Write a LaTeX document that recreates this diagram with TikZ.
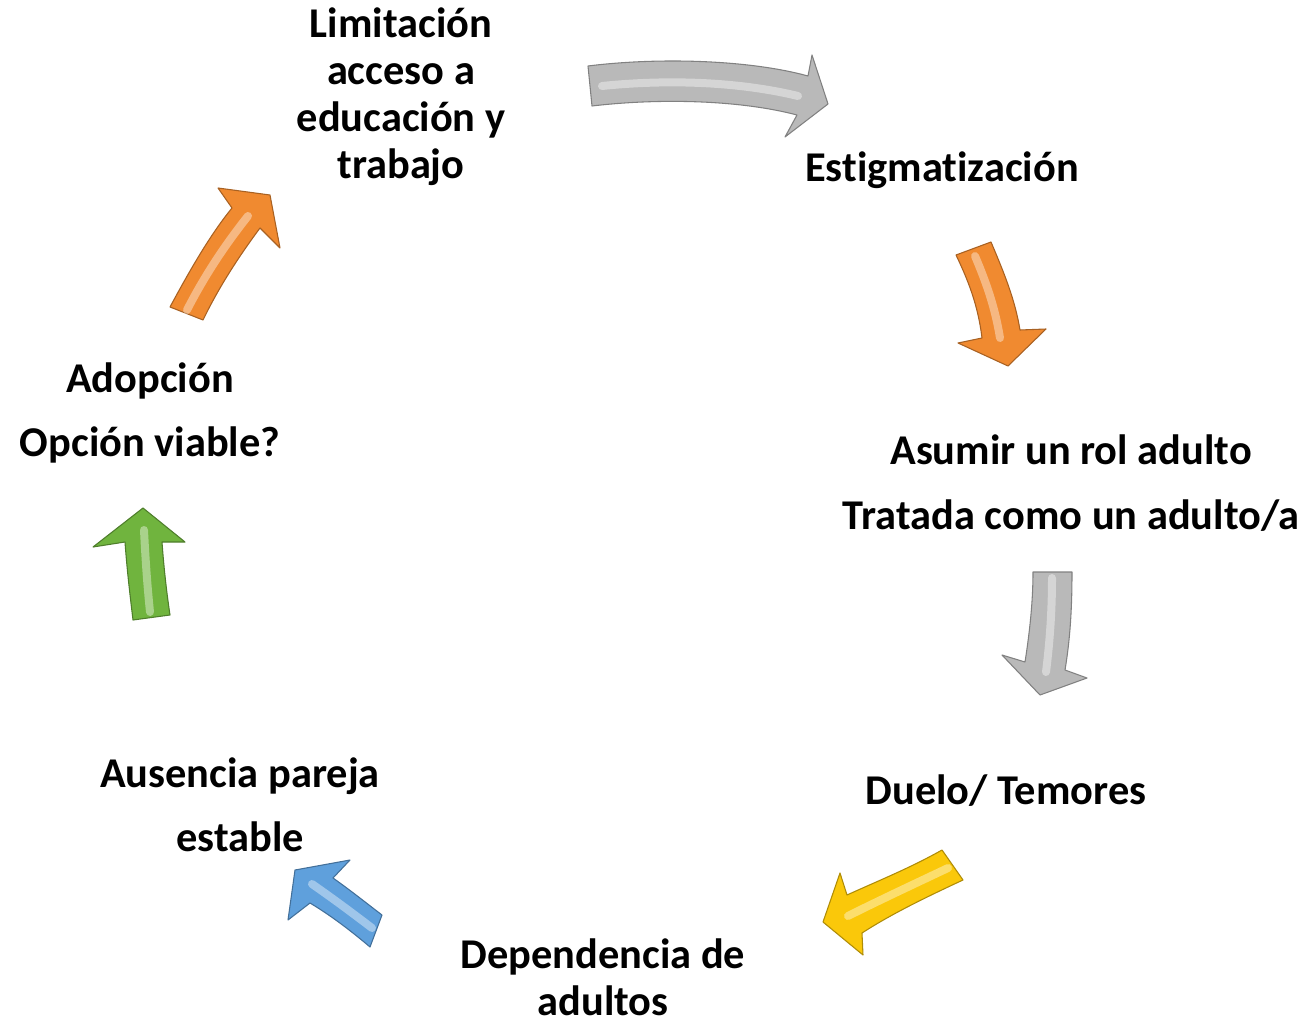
\documentclass[tikz,border=0pt]{standalone}
\usepackage{fontspec}
\setmainfont{Carlito}[Ligatures=NoCommon]
\definecolor{agray}{RGB}{185,185,185}
\definecolor{aorange}{RGB}{240,138,48}
\definecolor{ayellow}{RGB}{250,200,10}
\definecolor{ablue}{RGB}{95,160,220}
\definecolor{agreen}{RGB}{112,180,62}
\tikzset{
  lbl/.style={font=\bfseries\fontsize{31.8}{35.2}\selectfont, align=center, inner sep=0pt},
  barrow/.style={draw=#1!70!black, line width=0.8pt, fill=#1, line join=round},
  hl/.style={line width=6pt, line cap=round, draw=white, opacity=0.4}
}
\begin{document}
\begin{tikzpicture}[x=0.75pt,y=-0.75pt]
\useasboundingbox (0,0) rectangle (1307,1020);

% labels
\node[lbl] (limit) at (401,97) {Limitación\\acceso a\\educación y\\trabajo};
\node[lbl] (estig) at (942,170) {Estigmatización};
\node[lbl] (asumir) at (1071,483) {Asumir un rol adulto\\[13pt]Tratada como un adulto/a};
\node[lbl] (duelo) at (1006,791) {Duelo/ Temores};
\node[lbl] (depend) at (603,977) {Dependencia de\\adultos};
\node[lbl] (ausen) at (240,805) {Ausencia pareja\\[13pt]estable};
\node[lbl] (adop) at (150,413) {Adopción\\[13pt]Opción viable?};

% arrow 1: gray curved right
\draw[barrow=agray] (588,66) .. controls (660,57) and (750,60) .. (808,76) -- (812,55) -- (828,104) -- (785,137) -- (797,115) .. controls (740,100) and (660,98) .. (592,106) -- cycle;
\draw[hl] (602,86) .. controls (670,79) and (740,82) .. (798,96);

% arrow 2: orange down
\draw[barrow=aorange] (956,255) -- (991,242) .. controls (1005,275) and (1015,300) .. (1020,330) -- (1046,329) -- (1008,366) -- (958,343) -- (982,338) .. controls (978,305) and (968,280) .. cycle;
\draw[hl] (975,256) .. controls (986,282) and (995,307) .. (1000,338);

% arrow 3: gray down
\draw[barrow=agray] (1033,572) -- (1072,572) .. controls (1072,610) and (1070,640) .. (1065,670) -- (1087,678) -- (1040,695) -- (1002,655) -- (1025,662) .. controls (1030,630) and (1033,600) .. cycle;
\draw[hl] (1052,578) .. controls (1052,610) and (1050,640) .. (1046,672);

% arrow 4: yellow left
\draw[barrow=ayellow] (942,850) -- (963,880) .. controls (920,900) and (890,915) .. (862,933) -- (863,955) -- (823,922) -- (840,873) -- (847,895) .. controls (880,880) and (910,868) .. cycle;
\draw[hl] (948,868) .. controls (910,886) and (880,900) .. (848,916);

% arrow 5: blue up-left
\draw[barrow=ablue] (382,915) -- (370,947) .. controls (350,930) and (330,915) .. (310,903) -- (288,920) -- (295,870) -- (350,860) -- (333,878) .. controls (350,890) and (365,902) .. cycle;
\draw[hl] (372,928) .. controls (355,915) and (335,900) .. (312,884);

% arrow 6: green up
\draw[barrow=agreen] (143,508) -- (185,542) -- (162,542) .. controls (164,570) and (167,595) .. (170,615) -- (133,620) .. controls (130,595) and (127,570) .. (125,542) -- (93,547) -- cycle;
\draw[hl] (150,612) .. controls (148,592) and (146,570) .. (144,530);

% arrow 7: orange up-right
\draw[barrow=aorange] (170,307) .. controls (190,270) and (210,235) .. (232,208) -- (218,188) -- (270,195) -- (280,248) -- (260,228) .. controls (240,255) and (220,285) .. (203,320) -- cycle;
\draw[hl] (187,310) .. controls (205,275) and (225,245) .. (248,216);
\end{tikzpicture}
\end{document}
